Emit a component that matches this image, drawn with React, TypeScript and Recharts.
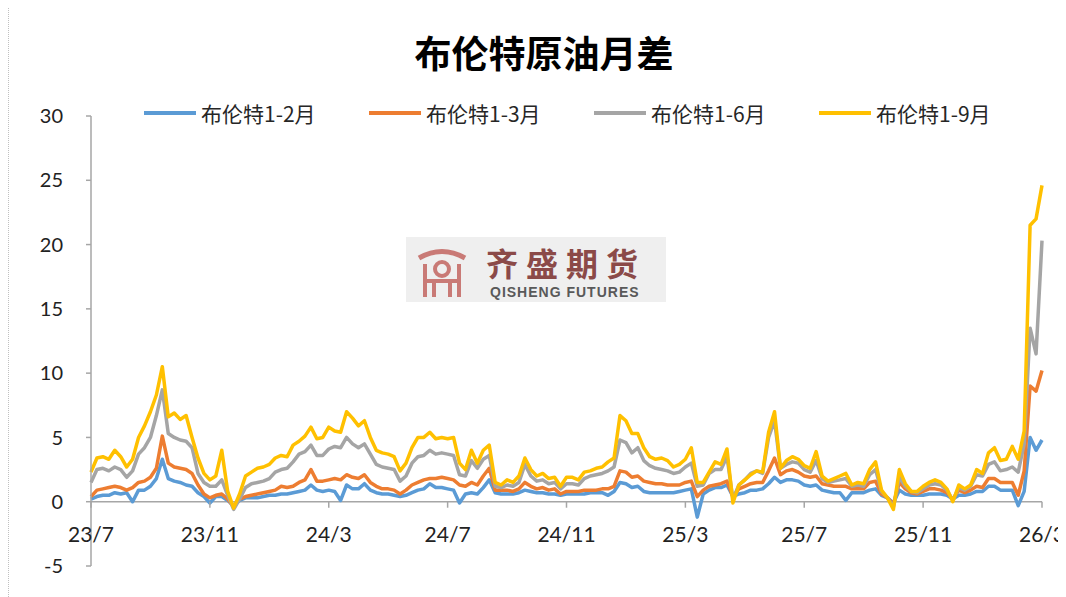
import React from "react";
import { LineChart, Line, XAxis, YAxis, ReferenceLine, Legend } from "recharts";

// 布伦特原油月差, one point every 0.2 month starting 2023/7
const BRENT_1_2 = [
  0.2, 0.4, 0.5, 0.5, 0.7, 0.6, 0.7, 0.0, 0.9, 0.9,
  1.2, 1.8, 3.3, 1.8, 1.6, 1.5, 1.3, 1.2, 0.7, 0.4,
  -0.1, 0.4, 0.4, 0.1, -0.3, 0.1, 0.3, 0.3, 0.3, 0.4,
  0.5, 0.5, 0.6, 0.6, 0.7, 0.8, 0.9, 1.3, 0.9, 0.8,
  0.9, 0.8, 0.1, 1.3, 1.0, 1.0, 1.4, 0.9, 0.7, 0.6,
  0.6, 0.5, 0.4, 0.5, 0.7, 0.9, 1.0, 1.4, 1.1, 1.1,
  1.0, 0.9, -0.1, 0.6, 0.7, 0.6, 1.1, 1.7, 0.7, 0.6,
  0.6, 0.6, 0.7, 0.9, 0.8, 0.7, 0.7, 0.6, 0.6, 0.5,
  0.6, 0.6, 0.6, 0.6, 0.7, 0.7, 0.7, 0.5, 0.8, 1.5,
  1.4, 1.1, 1.2, 0.8, 0.7, 0.7, 0.7, 0.7, 0.7, 0.8,
  0.9, 1.0, -1.2, 0.6, 0.9, 1.1, 1.1, 1.3, 0.4, 0.6,
  0.7, 0.9, 0.9, 1.0, 1.4, 1.9, 1.5, 1.7, 1.7, 1.6,
  1.3, 1.2, 1.3, 0.9, 0.8, 0.7, 0.7, 0.1, 0.7, 0.7,
  0.7, 0.9, 1.0, 0.5, 0.3, -0.1, 0.9, 0.6, 0.5, 0.5,
  0.5, 0.6, 0.6, 0.6, 0.5, 0.2, 0.5, 0.5, 0.6, 0.8,
  0.8, 1.2, 1.2, 0.9, 0.9, 0.9, -0.3, 0.8, 5.0, 4.0,
  4.8,
];

const BRENT_1_3 = [
  0.4, 0.9, 1.0, 1.1, 1.2, 1.1, 0.9, 1.1, 1.5, 1.6,
  1.9, 2.6, 5.1, 3.0, 2.7, 2.6, 2.5, 2.2, 1.3, 0.6,
  0.3, 0.5, 0.6, 0.2, -0.4, 0.2, 0.4, 0.5, 0.6, 0.7,
  0.8, 0.9, 1.2, 1.1, 1.2, 1.5, 1.7, 2.5, 1.6, 1.6,
  1.7, 1.8, 1.7, 2.1, 1.9, 1.8, 2.1, 1.5, 1.2, 1.0,
  1.0, 0.9, 0.6, 0.9, 1.3, 1.5, 1.7, 1.8, 1.8, 1.9,
  1.8, 1.7, 1.3, 1.2, 1.5, 1.3, 2.0, 2.6, 0.9, 0.9,
  0.9, 0.8, 1.0, 1.5, 1.2, 1.0, 1.1, 0.9, 1.0, 0.6,
  0.8, 0.8, 0.8, 0.9, 0.9, 0.9, 1.0, 1.0, 1.2, 2.4,
  2.3, 1.9, 2.0, 1.6, 1.5, 1.4, 1.4, 1.3, 1.3, 1.3,
  1.5, 1.6, 0.4, 0.9, 1.2, 1.3, 1.4, 1.6, 0.4, 1.0,
  1.2, 1.4, 1.5, 1.5, 2.4, 3.4, 2.1, 2.4, 2.5, 2.3,
  2.0, 1.9, 2.0, 1.4, 1.3, 1.2, 1.2, 1.2, 1.0, 1.0,
  1.0, 1.5, 1.6, 0.6, 0.3, -0.2, 1.5, 1.0, 0.7, 0.6,
  0.8, 1.0, 1.0, 0.9, 0.7, 0.2, 0.9, 0.7, 0.9, 1.2,
  1.1, 1.8, 1.8, 1.5, 1.5, 1.5, 0.5, 2.4, 9.0, 8.6,
  10.2,
];

const BRENT_1_6 = [
  1.5, 2.5, 2.6, 2.4, 2.7, 2.5, 1.9, 2.4, 3.7, 4.2,
  5.0, 6.7, 8.7, 5.3, 5.0, 4.8, 4.7, 4.2, 2.2, 1.5,
  1.2, 1.2, 1.7, 0.5, -0.6, 0.2, 1.1, 1.4, 1.5, 1.6,
  1.8, 2.3, 2.5, 2.6, 3.1, 3.7, 3.9, 4.4, 3.6, 3.6,
  4.1, 4.3, 4.2, 5.0, 4.5, 4.2, 4.5, 3.7, 2.9, 2.7,
  2.6, 2.5, 1.6, 2.0, 3.0, 3.5, 3.6, 4.0, 3.7, 3.8,
  3.7, 3.6, 2.1, 2.0, 3.2, 2.6, 3.3, 3.6, 1.2, 1.1,
  1.3, 1.2, 1.5, 2.9, 2.0, 1.6, 1.7, 1.4, 1.5, 1.0,
  1.4, 1.4, 1.3, 1.8, 2.0, 2.1, 2.2, 2.4, 2.7, 4.8,
  4.6, 3.8, 4.2, 3.2, 2.8, 2.6, 2.5, 2.4, 2.2, 2.3,
  2.7, 3.0, 1.2, 1.3, 2.2, 2.5, 2.5, 3.5, 0.2, 1.3,
  1.7, 2.2, 2.4, 2.2, 5.0, 6.3, 2.6, 2.9, 3.1, 3.0,
  2.5, 2.3, 3.2, 1.8, 1.5, 1.6, 1.7, 1.8, 1.2, 1.3,
  1.2, 2.1, 2.5, 0.8, 0.3, -0.4, 1.9, 1.2, 0.8, 0.7,
  1.0, 1.3, 1.4, 1.3, 0.9, 0.1, 1.1, 0.9, 1.2, 2.1,
  2.0, 2.9, 3.1, 2.4, 2.5, 2.7, 2.3, 4.5, 13.5, 11.5,
  20.3,
];

const BRENT_1_9 = [
  2.3, 3.4, 3.5, 3.3, 4.0, 3.5, 2.7, 3.3, 5.0, 5.9,
  7.0, 8.3, 10.5, 6.6, 6.9, 6.4, 6.7, 5.0, 3.4, 2.2,
  1.7, 2.0, 4.0, 0.8, -0.5, 0.6, 2.0, 2.3, 2.6, 2.7,
  2.9, 3.4, 3.6, 3.5, 4.4, 4.7, 5.1, 5.8, 4.9, 5.0,
  5.8, 5.5, 5.4, 7.0, 6.5, 5.9, 6.3, 5.0, 4.0, 3.8,
  3.7, 3.5, 2.4, 3.0, 4.2, 5.0, 5.0, 5.4, 4.9, 5.0,
  4.9, 5.0, 3.0, 2.5, 4.0, 3.0, 4.0, 4.4, 1.5, 1.3,
  1.7, 1.5, 2.0, 3.4, 2.5, 2.0, 2.2, 1.8, 1.9, 1.2,
  1.9, 1.9, 1.7, 2.3, 2.4, 2.6, 2.7, 3.1, 3.4, 6.7,
  6.3, 5.3, 5.3, 4.2, 3.5, 3.3, 3.4, 3.2, 2.7, 2.9,
  3.3, 4.2, 1.5, 1.5, 2.3, 3.1, 2.9, 4.1, -0.1, 1.3,
  1.7, 2.1, 2.4, 2.3, 5.4, 7.0, 2.6, 3.2, 3.5, 3.3,
  2.8, 2.6, 3.9, 2.0, 1.6, 1.8, 2.0, 2.2, 1.3, 1.5,
  1.4, 2.5, 3.1, 0.9, 0.3, -0.6, 2.5, 1.4, 0.8, 0.8,
  1.2, 1.5, 1.7, 1.5, 1.0, 0.0, 1.3, 1.0, 1.3, 2.5,
  2.2, 3.8, 4.2, 3.2, 3.3, 4.3, 3.3, 5.5, 21.5, 22.0,
  24.6,
];

const X_TICK_LABELS = ["23/7", "23/11", "24/3", "24/7", "24/11", "25/3", "25/7", "25/11", "26/3"];
const X_TICKS = [0, 4, 8, 12, 16, 20, 24, 28, 32];
const Y_TICKS = [-5, 0, 5, 10, 15, 20, 25, 30];

const SERIES = [
  { key: "b12", name: "布伦特1-2月", color: "#5B9BD5" },
  { key: "b13", name: "布伦特1-3月", color: "#ED7D31" },
  { key: "b16", name: "布伦特1-6月", color: "#A5A5A5" },
  { key: "b19", name: "布伦特1-9月", color: "#FFC000" },
];

const data = BRENT_1_2.map((v, i) => ({
  t: i * 0.2,
  b12: v,
  b13: BRENT_1_3[i],
  b16: BRENT_1_6[i],
  b19: BRENT_1_9[i],
}));

const W = 1050;
const H = 581;
const PLOT_TOP = 108;
const PLOT_H = 450;
const ZERO_Y = PLOT_TOP + (PLOT_H * 30) / 35;
const AXIS_COLOR = "#a6a6a6";
const TICK_FONT = "Lato, 'Noto Sans', sans-serif";
const CJK_FONT = "'Noto Sans CJK SC', 'Noto Sans', sans-serif";

function XTick(props: any) {
  const { x, payload } = props;
  const idx = X_TICKS.indexOf(payload.value);
  return (
    <g>
      <line x1={x} x2={x} y1={ZERO_Y} y2={ZERO_Y + 6} stroke={AXIS_COLOR} strokeWidth={1.5} />
      <text x={x} y={ZERO_Y + 40} textAnchor="middle" fontSize={21} fontFamily={TICK_FONT} fill="#222">
        {X_TICK_LABELS[idx]}
      </text>
    </g>
  );
}

function LegendBox() {
  return (
    <div style={{ position: "relative", width: W, height: 26 }}>
      {SERIES.map((s, i) => (
        <div
          key={s.key}
          style={{
            position: "absolute",
            left: 135 + 225 * i,
            top: 0,
            height: 26,
            display: "flex",
            alignItems: "center",
            whiteSpace: "nowrap",
          }}
        >
          <span style={{ display: "inline-block", width: 52, height: 4, background: s.color, marginRight: 5 }} />
          <span style={{ fontSize: 21, fontFamily: CJK_FONT, color: "#262626" }}>{s.name}</span>
        </div>
      ))}
    </div>
  );
}

function Watermark() {
  return (
    <div
      style={{
        position: "absolute",
        left: 397,
        top: 229,
        width: 260,
        height: 65,
        background: "#efefef",
      }}
    >
      <svg width={52} height={55} viewBox="0 0 52 55" style={{ position: "absolute", left: 10, top: 7 }}>
        <path d="M3 14 Q26 1 49 14" stroke="#c97a76" strokeWidth={5} fill="none" />
        <circle cx={26} cy={25} r={7} stroke="#c97a76" strokeWidth={4} fill="none" />
        <path d="M9 20 L9 53 M43 20 L43 53 M9 37 L43 37 M18 37 L18 53 M34 37 L34 53" stroke="#c97a76" strokeWidth={4} fill="none" />
      </svg>
      <div
        style={{
          position: "absolute",
          left: 80,
          top: 8,
          fontSize: 32,
          lineHeight: "34px",
          letterSpacing: 8,
          fontWeight: 700,
          fontFamily: CJK_FONT,
          color: "#8b4a48",
          whiteSpace: "nowrap",
        }}
      >
        齐盛期货
      </div>
      <div
        style={{
          position: "absolute",
          left: 84,
          top: 48,
          fontSize: 14,
          lineHeight: "15px",
          fontWeight: 700,
          letterSpacing: 1,
          fontFamily: "'Liberation Sans', Arial, sans-serif",
          color: "#595959",
          whiteSpace: "nowrap",
        }}
      >
        QISHENG FUTURES
      </div>
    </div>
  );
}

export default function App() {
  return (
    <div
      style={{
        position: "relative",
        width: 1058,
        height: 589,
        background: "#fff",
        borderLeft: "1px dotted #c0c0c0",
        boxSizing: "border-box",
      }}
    >
      <div
        style={{
          position: "absolute",
          left: 0,
          top: 24,
          width: 1070,
          textAlign: "center",
          fontSize: 37,
          lineHeight: "40px",
          fontWeight: 700,
          fontFamily: CJK_FONT,
          color: "#000",
        }}
      >
        布伦特原油月差
      </div>
      <Watermark />
      <LineChart width={W} height={H} data={data} margin={{ top: PLOT_TOP, right: 17, bottom: 0, left: 0 }}>
        <XAxis
          dataKey="t"
          type="number"
          domain={[0, 32]}
          ticks={X_TICKS}
          axisLine={false}
          tickLine={false}
          height={23}
          tick={<XTick />}
          interval={0}
        />
        <YAxis
          domain={[-5, 30]}
          ticks={Y_TICKS}
          width={82}
          allowDataOverflow
          axisLine={{ stroke: AXIS_COLOR, strokeWidth: 1.5 }}
          tickLine={{ stroke: AXIS_COLOR, strokeWidth: 1.5 }}
          tickSize={5}
          tickMargin={23}
          tick={{ fontSize: 20, fontFamily: TICK_FONT, fill: "#222" }}
        />
        <ReferenceLine y={0} stroke={AXIS_COLOR} strokeWidth={1.5} />
        <Legend
          layout="horizontal"
          verticalAlign="middle"
          align="center"
          wrapperStyle={{ top: 92, left: 0, width: W, height: 26 }}
          content={<LegendBox />}
        />
        {SERIES.map((s) => (
          <Line
            key={s.key}
            dataKey={s.key}
            name={s.name}
            type="linear"
            stroke={s.color}
            strokeWidth={3.5}
            strokeLinejoin="round"
            dot={false}
            activeDot={false}
            isAnimationActive={false}
          />
        ))}
      </LineChart>
    </div>
  );
}
